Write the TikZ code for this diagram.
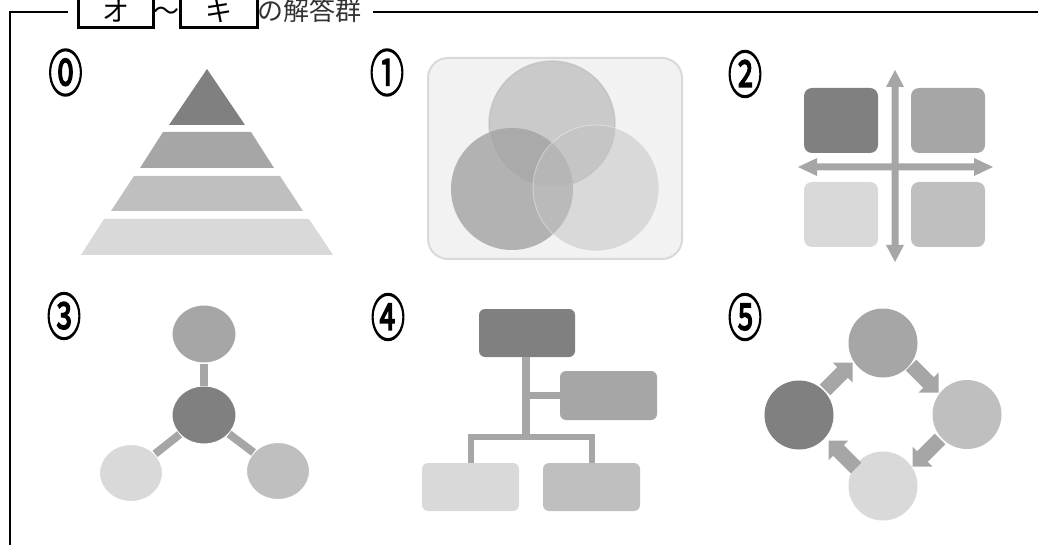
\documentclass[tikz,border=0pt]{standalone}
\usepackage{fontspec}
\usepackage{graphicx}
\usetikzlibrary{calc,shapes.geometric}
\newfontfamily\jp{Noto Sans CJK JP}
\newfontfamily\cnumfont{Noto Sans CJK JP}[FakeBold=3]
\definecolor{gA}{HTML}{808080}
\definecolor{gB}{HTML}{A6A6A6}
\definecolor{gC}{HTML}{BFBFBF}
\definecolor{gD}{HTML}{D9D9D9}
\definecolor{vbg}{HTML}{F2F2F2}
\newcommand{\cnum}[1]{\scalebox{0.95}[1.4]{\cnumfont\fontsize{36}{36}\selectfont #1}}
% block arrow from tail coordinate #1 to tip coordinate #2
\newcommand{\blockarrow}[3]{%
  \coordinate (#3h) at ($(#2)!14pt!(#1)$);
  \fill[gB] ($(#1)!7.5pt!90:(#2)$) -- ($(#3h)!7.5pt!90:(#2)$) -- ($(#3h)!14pt!90:(#2)$)
    -- (#2) -- ($(#3h)!14pt!-90:(#2)$) -- ($(#3h)!7.5pt!-90:(#2)$) -- ($(#1)!7.5pt!-90:(#2)$) -- cycle;}
\begin{document}
\begin{tikzpicture}[x=1pt,y=-1pt,
  frame/.style={line width=2pt},
  hbox/.style={line width=3pt},
  htext/.style={font=\jp\fontsize{26}{26}\selectfont, inner sep=0pt},
  numlab/.style={inner sep=0pt},
  ell/.style={ellipse, inner sep=0pt, draw=white, line width=1pt},
  rbox/.style={rectangle, rounded corners=6pt, inner sep=0pt, minimum width=97pt, minimum height=48pt},
  cyc/.style={circle, inner sep=0pt, minimum size=69pt},
  conn/.style={gB, line width=7pt},
  quad/.style={rounded corners=8pt}]
\useasboundingbox (0,0) rectangle (1038,545);
% frame
\draw[frame] (1038,12.5) -- (373,12.5);
\draw[frame] (68,12.5) -- (9.5,12.5) -- (9.5,545);
% header
\draw[hbox] (78,-10) rectangle (153,28);
\draw[hbox] (180,-10) rectangle (257,28);
\node[htext, font=\jp\fontsize{27}{27}\selectfont] (ho) at (115.5,11.5) {オ};
\node[htext, font=\jp\fontsize{27}{27}\selectfont] (hk) at (218.5,11.5) {キ};
\node[htext] (ht) at (166.5,14) {〜};
\node[htext, text=black!80, anchor=west] (hl) at (257,10) {の解答群};
% labels
\node[numlab] (n0) at (65.5,72.5) {\cnum{⓪}};
\node[numlab] (n1) at (387,72.5) {\cnum{①}};
\node[numlab] (n2) at (745,74) {\cnum{②}};
\node[numlab] (n3) at (64,316) {\cnum{③}};
\node[numlab] (n4) at (388,317) {\cnum{④}};
\node[numlab] (n5) at (745,317) {\cnum{⑤}};
% 0 pyramid
\fill[gA] (207,69) -- (245,125) -- (169,125) -- cycle;
\fill[gB] (163,132) -- (251,132) -- (274,168) -- (140,168) -- cycle;
\fill[gC] (134,176) -- (280,176) -- (303,211) -- (111,211) -- cycle;
\fill[gD] (104,219) -- (309,219) -- (333,255) -- (81,255) -- cycle;
% 1 venn
\draw[fill=vbg, draw=gD, line width=2pt, rounded corners=20pt] (428,58) rectangle (682,259);
\fill[fill=black!55, fill opacity=0.5] (512,189) circle[radius=61pt];
\draw[fill=black!36, fill opacity=0.5, draw=black!28, draw opacity=0.5, line width=1.5pt] (552,124) circle[radius=63pt];
\draw[fill=black!24, fill opacity=0.5, draw=white, draw opacity=0.35, line width=1pt] (596,188) circle[radius=63pt];
% 2 quadrants
\fill[gA, quad] (804,88) rectangle (878,153);
\fill[gB, quad] (911,88) rectangle (985,153);
\fill[gD, quad] (804,182) rectangle (878,247);
\fill[gC, quad] (911,182) rectangle (985,247);
\fill[gB] (895,70) -- (904,87) -- (898.5,87) -- (898.5,245) -- (904,245) -- (895,262)
  -- (886,245) -- (891.5,245) -- (891.5,87) -- (886,87) -- cycle;
\fill[gB] (798,167) -- (817,158) -- (817,163.5) -- (974,163.5) -- (974,158) -- (993,167)
  -- (974,176) -- (974,170.5) -- (817,170.5) -- (817,176) -- cycle;
% 3 hub
\node[ell, fill=gA, minimum width=64pt, minimum height=58pt] (c3) at (204,415) {};
\node[ell, fill=gB, minimum width=64pt, minimum height=58pt] (t3) at (204,334) {};
\node[ell, fill=gD, minimum width=63pt, minimum height=57pt] (l3) at (131,473) {};
\node[ell, fill=gC, minimum width=63pt, minimum height=57pt] (r3) at (278,471) {};
\draw[conn, line width=8pt] (c3) -- (t3);
\draw[conn, line width=8pt] (c3) -- (l3);
\draw[conn, line width=8pt] (c3) -- (r3);
% 4 tree
\node[rbox, fill=gA, minimum width=96pt] (t4) at (527,333) {};
\node[rbox, fill=gB, minimum height=49pt] (r4) at (608.5,395.5) {};
\node[rbox, fill=gD] (l4) at (470.5,487) {};
\node[rbox, fill=gC] (b4) at (591.5,487) {};
\coordinate (j4) at (526,437);
\draw[conn, line width=8pt] (t4.south -| j4) -- (j4);
\draw[conn] (j4 |- r4.west) -- (r4.west);
\draw[conn, line width=6pt] (l4.north) |- (j4) -| (b4.north);
% 5 cycle
\node[cyc, fill=gB] (t5) at (883,343) {};
\node[cyc, fill=gC] (r5) at (967,414.5) {};
\node[cyc, fill=gA] (l5) at (799,415) {};
\node[cyc, fill=gD] (b5) at (883,486) {};
\coordinate (a1s) at (825,390); \coordinate (a1e) at (852.5,362.5);
\coordinate (a2s) at (911,365); \coordinate (a2e) at (938.5,392.5);
\coordinate (a3s) at (940,439); \coordinate (a3e) at (912.5,466.5);
\coordinate (a4s) at (856,468); \coordinate (a4e) at (828.5,440.5);
\blockarrow{a1s}{a1e}{a1}
\blockarrow{a2s}{a2e}{a2}
\blockarrow{a3s}{a3e}{a3}
\blockarrow{a4s}{a4e}{a4}
\end{tikzpicture}
\end{document}
